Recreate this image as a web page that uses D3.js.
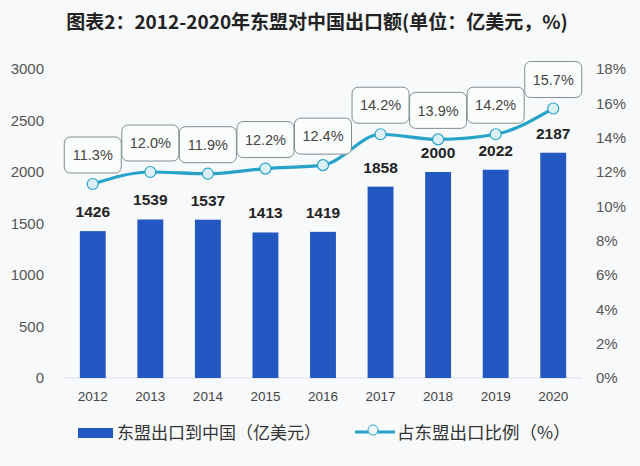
<!DOCTYPE html>
<html><head><meta charset="utf-8">
<script src="https://cdn.jsdelivr.net/npm/d3@7"></script>
<style>body{margin:0;background:#f8f9fb;}svg{display:block;}</style>
</head><body><svg id="c" width="640" height="466"></svg>
<script>
const years = ["2012","2013","2014","2015","2016","2017","2018","2019","2020"];
const exportsToChina = [1426,1539,1537,1413,1419,1858,2000,2022,2187];
const shareOfExports = [11.3,12.0,11.9,12.2,12.4,14.2,13.9,14.2,15.7];
const leftTicks = [0,500,1000,1500,2000,2500,3000];
const rightTicks = [0,2,4,6,8,10,12,14,16,18];
const titleText = "图表2：2012-2020年东盟对中国出口额(单位：亿美元，%)";
const legendBar = "东盟出口到中国（亿美元）";
const legendLine = "占东盟出口比例（%）";

const font = "'Noto Sans CJK SC', 'Noto Sans', sans-serif";
const latin = "'Liberation Sans', Arial, sans-serif";
const svg = d3.select("#c");
svg.append("rect").attr("width",640).attr("height",466).attr("fill","#f8f9fb");

const x = d3.scaleBand().domain(years).range([64,582]).paddingInner(0.55).paddingOuter(0.275);
const yL = d3.scaleLinear().domain([0,3000]).range([378,69]);
const yR = d3.scaleLinear().domain([0,18]).range([378,69]);

svg.append("text").attr("x",317).attr("y",29).attr("text-anchor","middle")
  .attr("font-family",font).attr("font-weight","bold").attr("font-size",19).attr("fill","#222").text(titleText);

// left axis
const gl = svg.append("g").attr("transform","translate(46,0)")
  .call(d3.axisLeft(yL).tickValues(leftTicks).tickSize(0).tickPadding(2).tickFormat(d3.format("d")));
gl.select(".domain").remove();
gl.selectAll("text").attr("font-family",latin).attr("font-size",15).attr("fill","#555");

const gr = svg.append("g").attr("transform","translate(594,0)")
  .call(d3.axisRight(yR).tickValues(rightTicks).tickSize(0).tickPadding(2).tickFormat(d=>d+"%"));
gr.select(".domain").remove();
gr.selectAll("text").attr("font-family",latin).attr("font-size",15).attr("fill","#555");

// baseline
svg.append("line").attr("x1",64).attr("x2",582).attr("y1",yL(0)).attr("y2",yL(0)).attr("stroke","#d8dde3").attr("stroke-width",1);

const gx = svg.append("g").attr("transform",`translate(0,${yL(0)})`)
  .call(d3.axisBottom(x).tickSize(0).tickPadding(13));
gx.select(".domain").remove();
gx.selectAll("text").attr("font-family",latin).attr("font-size",13.5).attr("fill","#444");

// bars
svg.selectAll("rect.bar").data(years).join("rect").attr("class","bar")
  .attr("x",d=>x(d)).attr("width",x.bandwidth())
  .attr("y",(d,i)=>yL(exportsToChina[i])).attr("height",(d,i)=>yL(0)-yL(exportsToChina[i]))
  .attr("fill","#2358c2");
svg.selectAll("text.bl").data(years).join("text").attr("class","bl")
  .attr("x",d=>x(d)+x.bandwidth()/2).attr("y",(d,i)=>yL(exportsToChina[i])-14)
  .attr("text-anchor","middle").attr("font-family",latin).attr("font-weight","bold")
  .attr("font-size",15.5).attr("fill","#222").text((d,i)=>exportsToChina[i]);

// line
const pts = years.map((d,i)=>[x(d)+x.bandwidth()/2, yR(shareOfExports[i])]);
svg.append("path").attr("d",d3.line().curve(d3.curveMonotoneX)(pts))
  .attr("fill","none").attr("stroke","#27a3c9").attr("stroke-width",3.2);
svg.selectAll("circle.pt").data(pts).join("circle").attr("class","pt")
  .attr("cx",d=>d[0]).attr("cy",d=>d[1]).attr("r",5.5)
  .attr("fill","#ddf0f6").attr("stroke","#27a3c9").attr("stroke-width",1.2);

// label boxes
const lb = svg.selectAll("g.lb").data(pts).join("g").attr("class","lb")
  .attr("transform",d=>`translate(${d[0]},${d[1]-29})`);
lb.append("rect").attr("x",-28.5).attr("y",-18).attr("width",57).attr("height",36).attr("rx",6)
  .attr("fill","#fbfdfd").attr("stroke","#7f8d93").attr("stroke-width",1);
lb.append("text").attr("text-anchor","middle").attr("dy","0.36em")
  .attr("font-family",latin).attr("font-size",14.5).attr("fill","#444")
  .text((d,i)=>shareOfExports[i].toFixed(1)+"%");

// legend
svg.append("rect").attr("x",78).attr("y",428).attr("width",35).attr("height",10).attr("fill","#2358c2");
svg.append("text").attr("x",117).attr("y",433).attr("dy","0.35em").attr("font-family",font)
  .attr("font-size",17).attr("fill","#333").text(legendBar);
svg.append("line").attr("x1",355).attr("x2",395).attr("y1",432).attr("y2",432).attr("stroke","#27a3c9").attr("stroke-width",3);
svg.append("circle").attr("cx",373).attr("cy",430).attr("r",5).attr("fill","#f4fafc").attr("stroke","#27a3c9").attr("stroke-width",1);
svg.append("text").attr("x",397).attr("y",433).attr("dy","0.35em").attr("font-family",font)
  .attr("font-size",17.5).attr("fill","#333").text(legendLine);
</script></body></html>
